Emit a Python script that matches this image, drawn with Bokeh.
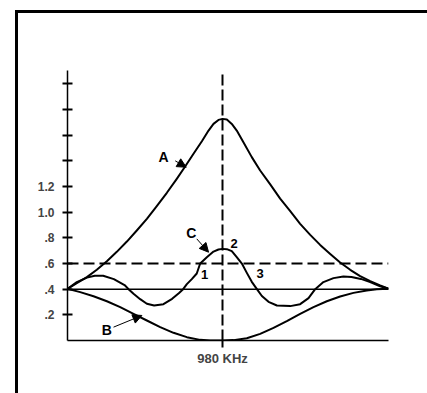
from bokeh.plotting import figure
from bokeh.models import Range1d, FixedTicker, Label, Arrow, NormalHead, LinearAxis
from bokeh.embed import file_html
from bokeh.resources import INLINE

# ---- data (x = offset from 980 KHz, arbitrary units; y = relative level) ----
a_x = [-1.0, -0.940, -0.875, -0.811, -0.746, -0.682, -0.617, -0.553, -0.488,
       -0.424, -0.359, -0.295, -0.241, -0.187, -0.133, -0.090, -0.058, -0.026,
       0.0, 0.028, 0.060, 0.092, 0.135, 0.189, 0.243, 0.308, 0.372, 0.437,
       0.501, 0.566, 0.630, 0.695, 0.759, 0.824, 0.888, 0.953, 1.017, 1.071]
a_y = [0.403, 0.447, 0.494, 0.551, 0.618, 0.691, 0.771, 0.857, 0.948,
       1.047, 1.151, 1.260, 1.356, 1.455, 1.553, 1.636, 1.688, 1.719,
       1.727, 1.722, 1.688, 1.636, 1.545, 1.429, 1.325, 1.216, 1.106, 1.008,
       0.909, 0.823, 0.745, 0.675, 0.608, 0.551, 0.501, 0.462, 0.429, 0.403]

b_x = [-1.0, -0.918, -0.832, -0.746, -0.660, -0.574, -0.488, -0.402,
       -0.316, -0.230, -0.144, -0.080, 0.0, 0.071, 0.157, 0.243, 0.329,
       0.415, 0.501, 0.587, 0.673, 0.759, 0.845, 0.931, 0.996, 1.071]
b_y = [0.403, 0.377, 0.345, 0.306, 0.260, 0.208, 0.156, 0.104,
       0.060, 0.026, 0.005, 0.0, 0.0, 0.003, 0.018, 0.052, 0.099,
       0.151, 0.208, 0.260, 0.306, 0.343, 0.371, 0.390, 0.400, 0.403]

c_x = [-1.0, -0.940, -0.875, -0.824, -0.770, -0.701, -0.632, -0.606,
       -0.574, -0.531, -0.488, -0.441, -0.381, -0.325, -0.282, -0.254,
       -0.230, -0.198, -0.166, -0.144, -0.101, -0.058, -0.026, 0.0,
       0.028, 0.060, 0.092, 0.125, 0.157, 0.189, 0.222, 0.254, 0.297,
       0.351, 0.437, 0.501, 0.555, 0.598, 0.651, 0.716, 0.780, 0.832,
       0.893, 0.953, 1.017, 1.071]
c_y = [0.403, 0.455, 0.49, 0.504, 0.504, 0.478, 0.432, 0.400,
       0.364, 0.322, 0.286, 0.273, 0.283, 0.325, 0.369, 0.400,
       0.439, 0.478, 0.522, 0.600, 0.649, 0.693, 0.709, 0.714,
       0.712, 0.696, 0.650, 0.600, 0.527, 0.457, 0.400, 0.347, 0.301,
       0.273, 0.268, 0.283, 0.330, 0.400, 0.455, 0.486, 0.499, 0.494,
       0.480, 0.455, 0.423, 0.403]

ref_level = 0.4
limit_level = 0.6
center_x = 0.0
x_start, x_end = -1.0, 1.071
y_top = 2.104

y_ticks = [0.2, 0.4, 0.6, 0.8, 1.0, 1.2, 1.4, 1.6, 1.8, 2.0]
y_tick_labels = [".2", ".4", ".6", ".8", "1.0", "1.2", "", "", "", ""]
x_tick_label = "980 KHz"

FONT = "Liberation Sans"

p = figure(width=412, height=383, output_backend="svg", toolbar_location=None,
           x_range=Range1d(x_start, x_end), y_range=Range1d(0, y_top),
           x_axis_location=None, y_axis_location=None,
           min_border_left=49, min_border_right=42, min_border_top=57,
           min_border_bottom=56)
p.styles = {"margin-left": "15px", "margin-top": "10px",
            "border-left": "3px solid black", "border-top": "3px solid black"}
p.grid.visible = False
p.outline_line_color = None
p.background_fill_color = "white"
p.border_fill_color = "white"

# y axis
ya = LinearAxis(ticker=FixedTicker(ticks=y_ticks))
ya.major_label_overrides = {t: l for t, l in zip(y_ticks, y_tick_labels)}
ya.major_tick_in = 5
ya.major_tick_out = 5
ya.major_tick_line_width = 2
ya.minor_tick_line_color = None
ya.axis_line_width = 1.5
ya.major_label_text_font = FONT
ya.major_label_text_font_style = "bold"
ya.major_label_text_font_size = "12px"
ya.major_label_standoff = 8
p.add_layout(ya, "left")

# x axis (baseline)
xa = LinearAxis(ticker=FixedTicker(ticks=[center_x]))
xa.major_label_overrides = {center_x: x_tick_label}
xa.major_tick_in = 0
xa.major_tick_out = 7
xa.major_tick_line_width = 2
xa.minor_tick_line_color = None
xa.axis_line_width = 1.5
xa.major_label_text_font = FONT
xa.major_label_text_font_style = "bold"
xa.major_label_text_font_size = "13px"
xa.major_label_standoff = 3
p.add_layout(xa, "below")

# reference lines
p.line([x_start, x_end], [ref_level, ref_level], line_color="black", line_width=1.5)
p.line([x_start, x_end], [limit_level, limit_level], line_color="black",
       line_width=2, line_dash="11 5")
p.line([center_x, center_x], [0, y_top], line_color="black", line_width=2,
       line_dash="11 4")

# curves
for xs, ys in ((a_x, a_y), (b_x, b_y), (c_x, c_y)):
    p.line(xs, ys, line_color="black", line_width=2, line_join="round")

# labels
def lab(x, y, t, size="14px"):
    p.add_layout(Label(x=x, y=y, text=t, text_font=FONT, text_font_style="bold",
                       text_font_size=size, text_align="center",
                       text_baseline="middle", text_color="black"))

lab(-0.381, 1.43, "A")
lab(-0.746, 0.078, "B")
lab(-0.202, 0.836, "C")
lab(-0.116, 0.514, "1", "13px")
lab(0.075, 0.753, "2", "13px")
lab(0.243, 0.519, "3", "13px")

for x0, y0, x1, y1 in ((-0.305, 1.40, -0.234, 1.35),
                       (-0.703, 0.104, -0.52, 0.195),
                       (-0.166, 0.792, -0.09, 0.688)):
    p.add_layout(Arrow(x_start=x0, y_start=y0, x_end=x1, y_end=y1,
                       line_width=1,
                       end=NormalHead(size=9, fill_color="black",
                                      line_color="black")))

open("out.html", "w").write(file_html(p, INLINE))
